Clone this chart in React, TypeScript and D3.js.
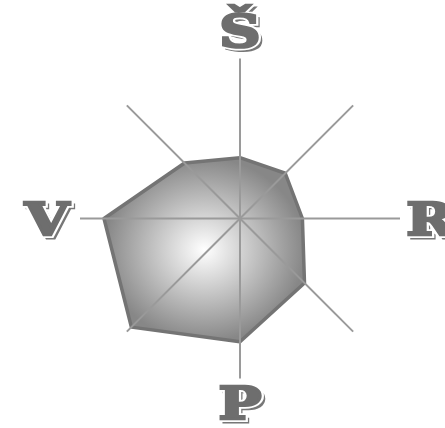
import React, { useEffect, useRef } from 'react'
import * as d3 from 'd3'

// axes go clockwise from the top; only the four cardinal ones carry a label
const axisLabels = ['Š', '', 'R', '', 'P', '', 'V', '']
const values = [38, 40, 39, 57, 77, 96, 85, 49]
const maxValue = 100

const App = () => {
  const svgRef = useRef<SVGSVGElement | null>(null)

  useEffect(() => {
    const width = 445
    const height = 428
    const cx = 240
    const cy = 218.5
    const radius = 160

    const svg = d3.select(svgRef.current)
    svg.selectAll('*').remove()
    svg.attr('width', width).attr('height', height)

    const defs = svg.append('defs')
    const grad = defs
      .append('radialGradient')
      .attr('id', 'polyFill')
      .attr('cx', '50%')
      .attr('cy', '50%')
      .attr('r', '50%')
    grad.append('stop').attr('offset', '0%').attr('stop-color', '#ffffff')
    grad.append('stop').attr('offset', '100%').attr('stop-color', '#878787')

    const angle = d3
      .scaleLinear()
      .domain([0, axisLabels.length])
      .range([0, 2 * Math.PI])
    const r = d3.scaleLinear().domain([0, maxValue]).range([0, radius])

    const g = svg.append('g').attr('transform', `translate(${cx},${cy})`)

    const line = d3
      .lineRadial<number>()
      .angle((_, i) => angle(i))
      .radius((d) => r(d))
      .curve(d3.curveLinearClosed)

    g.append('path')
      .datum(values)
      .attr('d', line)
      .attr('fill', 'url(#polyFill)')
      .attr('stroke', '#747474')
      .attr('stroke-width', 3.5)
      .attr('stroke-linejoin', 'round')

    g.append('g')
      .selectAll('line')
      .data(axisLabels)
      .enter()
      .append('line')
      .attr('x1', 0)
      .attr('y1', 0)
      .attr('x2', (_, i) => radius * Math.sin(angle(i)))
      .attr('y2', (_, i) => -radius * Math.cos(angle(i)))
      .attr('stroke', '#9a9a9a')
      .attr('stroke-width', 2)

    // distance from the centre to the middle of each label's capital
    const labelDist = [188, 0, 190, 0, 184, 0, 193, 0]
    const labels = g
      .append('g')
      .selectAll('g')
      .data(axisLabels.map((t, i) => ({ t, i })).filter((d) => d.t))
      .enter()
      .append('g')
      .attr('transform', (d) => {
        const x = labelDist[d.i] * Math.sin(angle(d.i))
        const y = -labelDist[d.i] * Math.cos(angle(d.i))
        return `translate(${x},${y}) scale(1.3,1)`
      })

    const font = "'DejaVu Serif', serif"
    const layer = (dx: number, dy: number, fill: string, stroke: string, sw: number) =>
      labels
        .append('text')
        .attr('x', dx)
        .attr('y', 16 + dy)
        .attr('text-anchor', 'middle')
        .style('font-family', font)
        .style('font-weight', 'bold')
        .style('font-size', '44px')
        .style('fill', fill)
        .style('stroke', stroke)
        .style('stroke-width', sw)
        .style('stroke-linejoin', 'miter')
        .text((d) => d.t)

    layer(2.5, 3, '#777777', '#777777', 3)
    layer(0, 0, '#ffffff', '#ffffff', 6)
    layer(0, 0, '#6e6e6e', '#6e6e6e', 2.5)
  }, [])

  return (
    <svg
      ref={svgRef}
      style={{ position: 'absolute', left: 0, top: 0, display: 'block' }}
    ></svg>
  )
}

export default App
